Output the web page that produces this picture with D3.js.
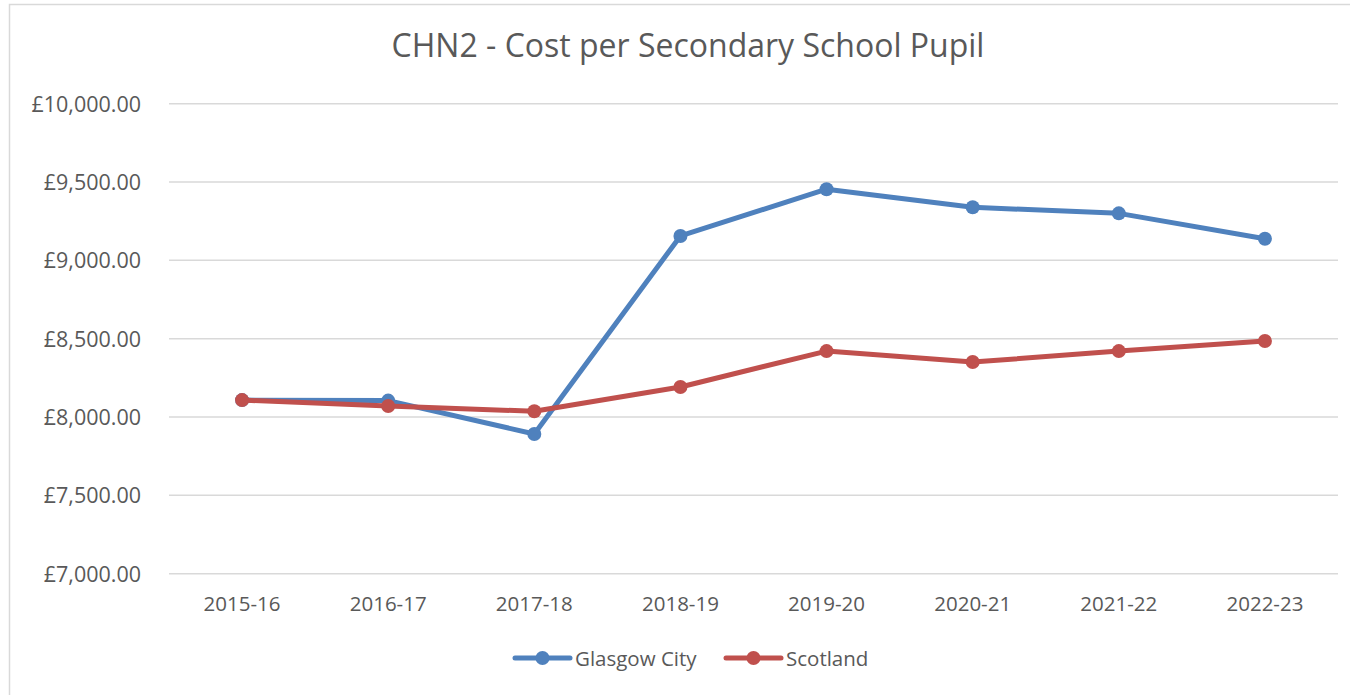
<!DOCTYPE html>
<html>
<head>
<meta charset="utf-8">
<script src="https://cdn.jsdelivr.net/npm/d3@7"></script>
<style>
  body { margin: 0; background: #fff; }
  text { font-family: "Open Sans", "Liberation Sans", sans-serif; fill: #595959; }
</style>
</head>
<body>
<script>
'use strict';

// chart data
const years = ["2015-16", "2016-17", "2017-18", "2018-19", "2019-20", "2020-21", "2021-22", "2022-23"];
const glasgow = [8108, 8105, 7892, 9156, 9454, 9339, 9300, 9138];
const scotland = [8108, 8070, 8037, 8192, 8421, 8351, 8421, 8485];
const yTicks = [7000, 7500, 8000, 8500, 9000, 9500, 10000];
const seriesNames = ["Glasgow City", "Scotland"];
const seriesColors = ["#4F81BD", "#C0504D"];

(function () {
  const width = 1350, height = 695;
  const svg = d3.select('body').append('svg')
    .attr('width', width)
    .attr('height', height);

  // chart border (right and bottom edges fall outside the picture)
  svg.append('rect')
    .attr('x', 9.5).attr('y', 4.5)
    .attr('width', 1360).attr('height', 720)
    .attr('fill', '#fff')
    .attr('stroke', '#d9d9d9')
    .attr('stroke-width', 1.5);

  const x = d3.scaleBand()
    .domain(years)
    .range([169, 1338]);

  const y = d3.scaleLinear()
    .domain([7000, 10000])
    .range([573.7, 103.7]);

  // gridlines
  svg.append('g')
    .selectAll('line')
    .data(yTicks)
    .enter()
    .append('line')
    .attr('x1', 169).attr('x2', 1338)
    .attr('y1', d => y(d)).attr('y2', d => y(d))
    .attr('stroke', '#d9d9d9')
    .attr('stroke-width', 1.5);

  // y axis labels
  const fmt = d3.format(",.2f");
  const yAxis = d3.axisLeft(y).tickValues(yTicks).tickSize(0).tickPadding(0)
    .tickFormat(d => "£" + fmt(d));
  const gy = svg.append('g')
    .attr('transform', 'translate(141, 0)')
    .call(yAxis);
  gy.select('.domain').remove();
  gy.selectAll('text')
    .style('font-size', '21.5px')
    .attr('dy', '0.35em');

  // x axis labels
  const xAxis = d3.axisBottom(x).tickSize(0).tickPadding(0);
  const gx = svg.append('g')
    .attr('transform', 'translate(0, 604)')
    .call(xAxis);
  gx.select('.domain').remove();
  gx.selectAll('text')
    .style('font-size', '20.5px')
    .attr('dy', '0.35em');

  // title
  svg.append('text')
    .attr('x', 688)
    .attr('y', 57)
    .attr('text-anchor', 'middle')
    .style('font-size', '32px')
    .text("CHN2 - Cost per Secondary School Pupil");

  // lines and markers
  const series = [glasgow, scotland];
  const line = d3.line()
    .x((d, i) => x(years[i]) + x.bandwidth() / 2)
    .y(d => y(d));

  series.forEach(function (vals, s) {
    svg.append('path')
      .datum(vals)
      .attr('fill', 'none')
      .attr('stroke', seriesColors[s])
      .attr('stroke-width', 5)
      .attr('stroke-linejoin', 'round')
      .attr('stroke-linecap', 'round')
      .attr('d', line);

    svg.append('g')
      .selectAll('circle')
      .data(vals)
      .enter()
      .append('circle')
      .attr('cx', (d, i) => x(years[i]) + x.bandwidth() / 2)
      .attr('cy', d => y(d))
      .attr('r', 7)
      .attr('fill', seriesColors[s]);
  });

  // legend
  const legendX = [515, 726];
  const legend = svg.append('g');
  seriesNames.forEach(function (name, s) {
    const lx = legendX[s];
    legend.append('line')
      .attr('x1', lx).attr('x2', lx + 55)
      .attr('y1', 658).attr('y2', 658)
      .attr('stroke', seriesColors[s])
      .attr('stroke-width', 5)
      .attr('stroke-linecap', 'round');
    legend.append('circle')
      .attr('cx', lx + 27.5).attr('cy', 658)
      .attr('r', 7)
      .attr('fill', seriesColors[s]);
    legend.append('text')
      .attr('x', lx + 60)
      .attr('y', 659)
      .attr('dy', '0.35em')
      .style('font-size', '20.5px')
      .text(name);
  });
})();
</script>
</body>
</html>
